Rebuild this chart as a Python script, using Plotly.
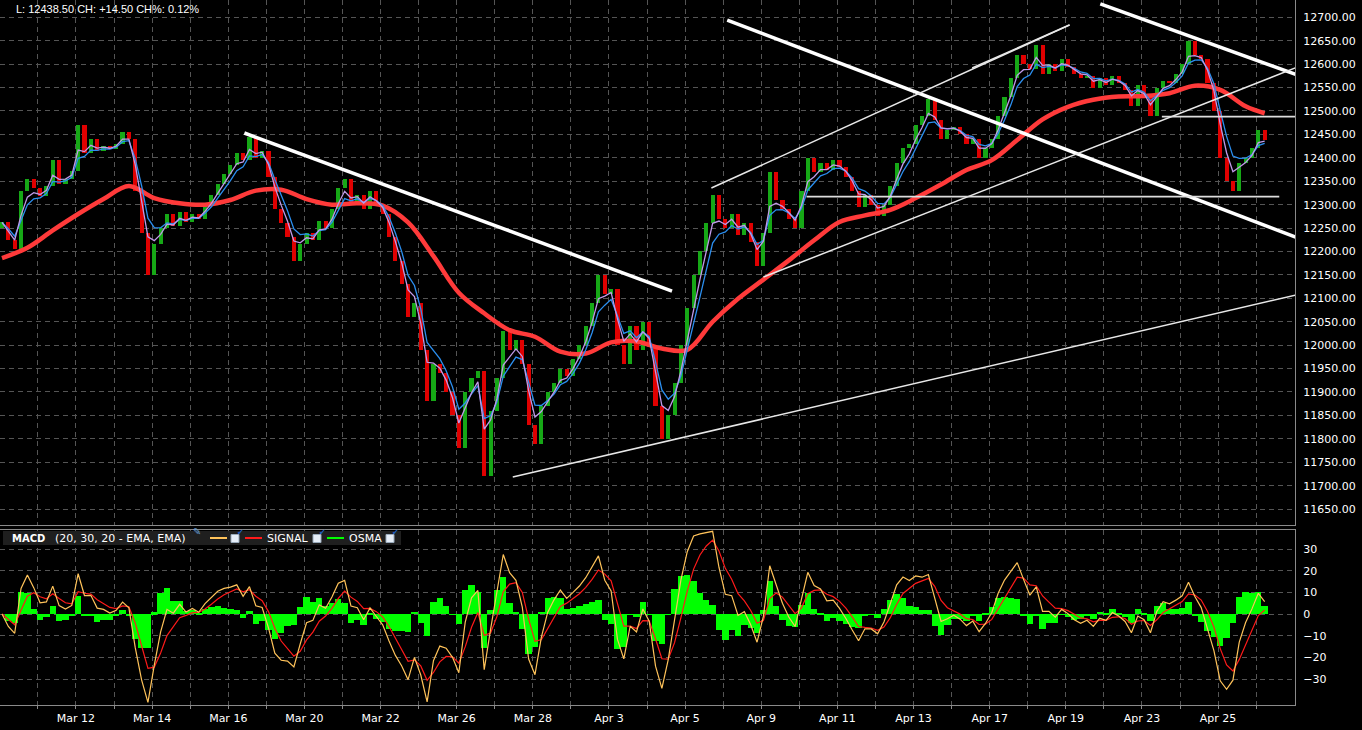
import plotly.graph_objects as go
import pandas as pd

# ---------------- data ----------------
first_open = 12250
closes = [
    12262, 12225, 12205, 12330, 12355, 12335,
    12318, 12340, 12395, 12345, 12355, 12372,
    12470, 12410, 12440, 12415, 12425, 12418,
    12430, 12455, 12440, 12330, 12240, 12150,
    12215, 12250, 12280, 12255, 12285, 12262,
    12280, 12270, 12300, 12320, 12345, 12365,
    12385, 12410, 12395, 12445, 12400, 12415,
    12360, 12290, 12260, 12230, 12180, 12215,
    12240, 12225, 12265, 12250, 12290, 12335,
    12355, 12300, 12320, 12290, 12330, 12300,
    12280, 12230, 12180, 12130, 12060, 12090,
    11990, 11880, 11960, 11940, 11900, 11850,
    11780, 11900, 11930, 11945, 11720, 11860,
    11930, 12030, 11990, 12010, 11960, 11830,
    11790, 11870, 11900, 11920, 11950, 11935,
    11970, 12000, 12040, 12090, 12150, 12110,
    12120, 12000, 11960, 12040, 11990, 12050,
    12000, 11870, 11800, 11850, 11920, 12000,
    12080, 12150, 12200, 12260, 12320, 12270,
    12250, 12280, 12235, 12260, 12220, 12170,
    12240, 12370, 12310, 12290, 12270, 12250,
    12330, 12400, 12370, 12390, 12375, 12395,
    12380, 12360, 12330, 12295, 12320, 12300,
    12275, 12300, 12340, 12390, 12420, 12430,
    12470, 12490, 12525, 12480, 12440, 12460,
    12465, 12450, 12430, 12440, 12400, 12420,
    12440, 12490, 12530, 12570, 12620, 12600,
    12590, 12640, 12580, 12600, 12585, 12610,
    12595, 12580, 12570, 12575, 12550, 12570,
    12555, 12575, 12560, 12545, 12510, 12555,
    12530, 12490, 12550, 12565, 12560, 12580,
    12600, 12650, 12620, 12610, 12560, 12500,
    12400, 12350, 12330, 12390, 12400, 12420,
    12460, 12438.5,
]

# slow moving average (thick red), read every 4th bar
ma_bars = list(range(0, 200, 4)) + [199]
ma_values = [
    12186, 12208, 12245, 12280, 12312, 12340, 12314, 12303, 12300, 12310,
    12330, 12332, 12312, 12300, 12303, 12298, 12262, 12190, 12112, 12068,
    12032, 12018, 11986, 11982, 12006, 12008, 11993, 11990, 12050, 12099,
    12140, 12181, 12224, 12263, 12277, 12289, 12314, 12343, 12374, 12395,
    12438, 12482, 12509, 12524, 12531, 12532, 12538, 12554, 12545, 12510,
    12495,
]

date_labels = ["Mar 12", "Mar 14", "Mar 16", "Mar 20", "Mar 22", "Mar 26",
               "Mar 28", "Apr 3", "Apr 5", "Apr 9", "Apr 11", "Apr 13",
               "Apr 17", "Apr 19", "Apr 23", "Apr 25"]

price_ticks = list(range(11650, 12701, 50))
macd_ticks = [-30, -20, -10, 0, 10, 20, 30]

# drawn trend lines: (bar, price) endpoints
thick_lines = [((38.2, 12453), (105.6, 12115.5)),
               ((114.3, 12694), (204.2, 12229)),
               ((173.1, 12728.6), (204.2, 12576.5))]
thin_lines = [((80.5, 11718.5), (204.2, 12108)),
              ((111.8, 12335.5), (168.3, 12684)),
              ((152.9, 12591.7), (168.2, 12683.6)),
              ((120.0, 12145.4), (204.2, 12593.9))]
level_lines = [((126.8, 12317), (201.3, 12317)),
               ((182.8, 12487.8), (204.2, 12487.8))]

# ---------------- derived series ----------------
bars = list(range(len(closes)))
opens = [first_open] + closes[:-1]
cs = pd.Series(closes, dtype=float)
ema_fast_line = cs.ewm(span=3, adjust=False).mean()
ema_slow_line = cs.ewm(span=4.5, adjust=False).mean()
macd = cs.ewm(span=2.5, adjust=False).mean() - cs.ewm(span=3.8, adjust=False).mean()
signal = macd.ewm(span=4, adjust=False).mean()
osma = macd - signal

up_x = [i for i in bars if closes[i] >= opens[i]]
dn_x = [i for i in bars if closes[i] < opens[i]]

# ---------------- geometry ----------------
W, H = 1362, 730
PLOT_W, PLOT_H = 1295, 705
step = 6.345
x0 = -2 / step
x1 = x0 + PLOT_W / step
grid_x = [5.66 + 6 * k for k in range(33)]
grid_text = [date_labels[(k - 1) // 2] if k % 2 == 1 else "" for k in range(33)]


def px(xp):
    return xp / PLOT_W


def py(yp):
    return (PLOT_H - yp) / PLOT_H


GRID = "#555555"
BORDER = "#8a8a8a"
FONT = dict(family="DejaVu Sans", size=11, color="white")

fig = go.Figure()
fig.add_trace(go.Bar(x=up_x, y=[closes[i] - opens[i] for i in up_x], base=[opens[i] for i in up_x],
                     width=0.65, marker=dict(color="#16a816", line=dict(width=0)), xaxis="x", yaxis="y"))
fig.add_trace(go.Bar(x=dn_x, y=[opens[i] - closes[i] for i in dn_x], base=[closes[i] for i in dn_x],
                     width=0.65, marker=dict(color="#e00000", line=dict(width=0)), xaxis="x", yaxis="y"))
fig.add_trace(go.Scatter(x=ma_bars, y=ma_values, mode="lines", line=dict(color="#ff3a3a", width=4.5, shape="spline"),
                         xaxis="x", yaxis="y"))
fig.add_trace(go.Scatter(x=bars, y=ema_slow_line, mode="lines", line=dict(color="#2b8ff0", width=1.3),
                         xaxis="x", yaxis="y"))
fig.add_trace(go.Scatter(x=bars, y=ema_fast_line, mode="lines", line=dict(color="#c09ae8", width=1.3),
                         xaxis="x", yaxis="y"))
for (a, b) in thick_lines:
    fig.add_trace(go.Scatter(x=[a[0], b[0]], y=[a[1], b[1]], mode="lines",
                             line=dict(color="white", width=3.5), xaxis="x", yaxis="y"))
for (a, b) in thin_lines:
    fig.add_trace(go.Scatter(x=[a[0], b[0]], y=[a[1], b[1]], mode="lines",
                             line=dict(color="#e8e8e8", width=1.5), xaxis="x", yaxis="y"))
for (a, b) in level_lines:
    fig.add_trace(go.Scatter(x=[a[0], b[0]], y=[a[1], b[1]], mode="lines",
                             line=dict(color="#dddddd", width=1.8), xaxis="x", yaxis="y"))

# MACD panel
fig.add_trace(go.Bar(x=bars, y=osma, marker=dict(color="#00ff00", line=dict(width=0)), width=1.0,
                     xaxis="x2", yaxis="y2"))
fig.add_trace(go.Scatter(x=bars, y=signal, mode="lines", line=dict(color="#ff1a1a", width=1.2),
                         xaxis="x2", yaxis="y2"))
fig.add_trace(go.Scatter(x=bars, y=macd, mode="lines", line=dict(color="#ffc35a", width=1.2),
                         xaxis="x2", yaxis="y2"))

axis_common = dict(showgrid=True, gridcolor=GRID, griddash="5px,4px", gridwidth=1,
                   showline=True, mirror=True, linecolor=BORDER, linewidth=1, zeroline=False,
                   tickfont=FONT)

fig.update_layout(
    width=W, height=H, margin=dict(l=0, r=W - PLOT_W, t=0, b=H - PLOT_H, autoexpand=False),
    paper_bgcolor="black", plot_bgcolor="black", showlegend=False, bargap=0, barmode="overlay",
    hovermode=False,
    xaxis=dict(domain=[0, 1], range=[x0, x1], anchor="y", tickvals=grid_x, showticklabels=False,
               ticks="", **axis_common),
    yaxis=dict(domain=[py(525), 1], range=[11616, 12737], side="right", anchor="x",
               tickvals=price_ticks, tickformat=".2f", ticks="", ticklabelstandoff=5, **axis_common),
    xaxis2=dict(domain=[0, 1], range=[x0, x1], anchor="y2", tickvals=grid_x, ticktext=grid_text,
                ticks="outside", ticklen=3, tickcolor=BORDER, **axis_common),
    yaxis2=dict(domain=[0, py(530)], range=[-42, 38.8], side="right", anchor="x2",
                tickvals=macd_ticks, ticks="", ticklabelstandoff=5, **axis_common),
)

# header info text
fig.add_annotation(xref="paper", yref="paper", x=px(14), y=py(9), xanchor="left", yanchor="middle",
                   text="L: 12438.50 CH: +14.50 CH%: 0.12%", showarrow=False,
                   font=dict(family="Liberation Sans", size=11, color="white"))

# MACD legend band
fig.add_shape(type="rect", xref="paper", yref="paper", x0=px(3), x1=px(401), y0=py(545), y1=py(531),
              fillcolor="#1f1f1f", line=dict(width=0), layer="above")
fig.add_annotation(xref="paper", yref="paper", x=px(10), y=py(538.5), xanchor="left", yanchor="middle",
                   text="<b>MACD</b>", showarrow=False, font=dict(family="DejaVu Sans", size=10, color="white"))
fig.add_annotation(xref="paper", yref="paper", x=px(53), y=py(538.5), xanchor="left", yanchor="middle",
                   text="(20, 30, 20 - EMA, EMA)", showarrow=False, font=FONT)
fig.add_annotation(xref="paper", yref="paper", x=px(265), y=py(538.5), xanchor="left", yanchor="middle",
                   text="SIGNAL", showarrow=False, font=FONT)
fig.add_annotation(xref="paper", yref="paper", x=px(347), y=py(538.5), xanchor="left", yanchor="middle",
                   text="OSMA", showarrow=False, font=FONT)
for (xa, xb, col) in [(210, 227, "#ffc35a"), (245, 262, "#ff1a1a"), (327, 344, "#00ff00")]:
    fig.add_shape(type="line", xref="paper", yref="paper", x0=px(xa), x1=px(xb), y0=py(538), y1=py(538),
                  line=dict(color=col, width=2), layer="above")
for xc in [235, 317, 390]:
    fig.add_shape(type="rect", xref="paper", yref="paper", x0=px(xc - 4), x1=px(xc + 4),
                  y0=py(542.5), y1=py(534.5), fillcolor="#e6eef8", line=dict(color="#9ab", width=1),
                  layer="above")
    fig.add_annotation(xref="paper", yref="paper", x=px(xc), y=py(538.5), text="✔", showarrow=False,
                       font=dict(family="DejaVu Sans", size=8, color="#1f5fbf"))
fig.add_annotation(xref="paper", yref="paper", x=px(191), y=py(539), text="✎", showarrow=False,
                   font=dict(family="DejaVu Sans", size=10, color="#6aa0d8"))

fig.write_html("out.html", config={"displayModeBar": False},
               post_script="document.body.style.margin='0';document.body.style.padding='0';")
